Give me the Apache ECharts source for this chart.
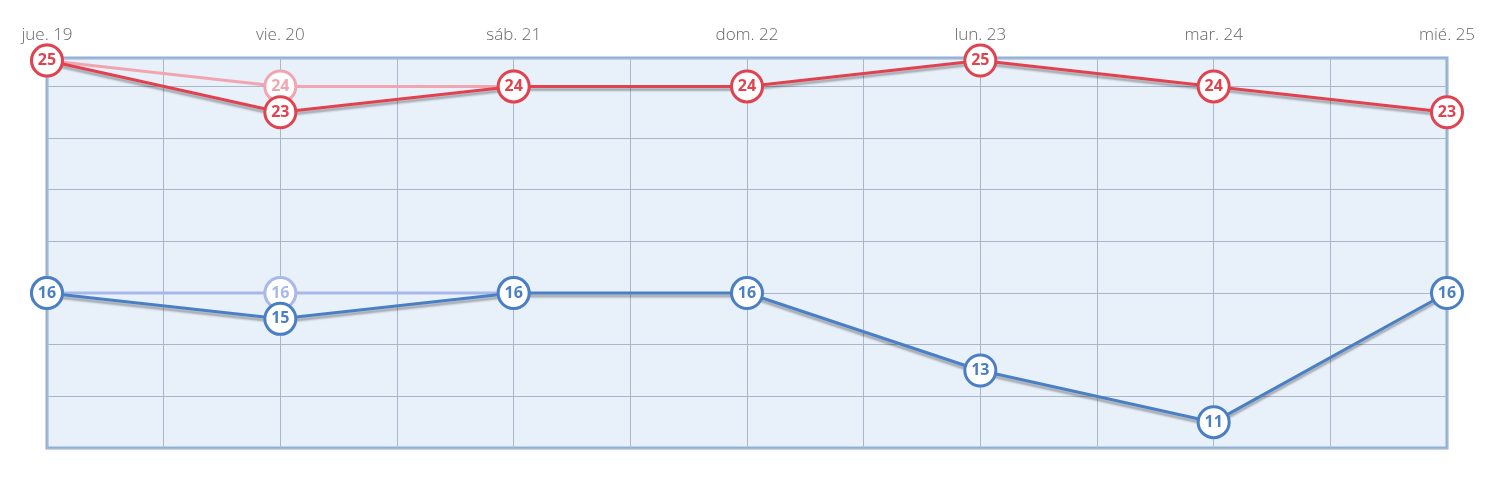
<!DOCTYPE html><html><head><meta charset="utf-8"><script src="https://cdn.jsdelivr.net/npm/echarts@6/dist/echarts.min.js"></script>
<style>html,body{margin:0;background:#fff}#c{width:1503px;height:481px}</style></head><body><div id="c"></div><script>
const categories=['jue. 19','vie. 20','sáb. 21','dom. 22','lun. 23','mar. 24','mié. 25'];
const maxTemps=[25,23,24,24,25,24,23];
const minTemps=[16,15,16,16,13,11,16];
const maxPrev=[25,24,24];
const minPrev=[16,16,16];
const toPts=a=>a.map((v,i)=>[i,v]);
function ser(data,color,fade,z){return{type:'line',data:toPts(data),z:z,symbol:'circle',symbolSize:31,
 lineStyle:{color:color,width:3,shadowColor:fade?'transparent':'rgba(0,0,0,0.3)',shadowOffsetY:3,shadowBlur:2},
 itemStyle:{color:'#fff',borderColor:color,borderWidth:3},
 label:{show:true,position:'inside',color:color,fontWeight:'bold',fontSize:16,fontFamily:'Open Sans'},animation:false};}
const chart=echarts.init(document.getElementById('c'));
chart.setOption({
 grid:{left:47,right:56,top:58,bottom:33,show:true,backgroundColor:'#e8f0fa',borderColor:'#8fb0d8',borderWidth:3},
 xAxis:{type:'value',min:0,max:6,interval:0.5,position:'top',axisLine:{show:false},axisTick:{show:false},
  axisLabel:{color:'#666',fontSize:17,fontWeight:300,fontFamily:'Open Sans',margin:14,formatter:v=>Number.isInteger(v)?categories[v]:''},
  splitLine:{show:true,lineStyle:{color:'#aab6ca',width:1}}},
 yAxis:{type:'value',min:10,max:25.1,interval:2,axisLabel:{show:false},axisLine:{show:false},axisTick:{show:false},
  splitLine:{lineStyle:{color:'#aab6ca',width:1}}},
 series:[ser(maxPrev,'#f0a6b0',true,1),ser(minPrev,'#a9b8ea',true,1),ser(maxTemps,'#e0434f',false,3),ser(minTemps,'#4a7fc4',false,3)]
});
</script></body></html>
